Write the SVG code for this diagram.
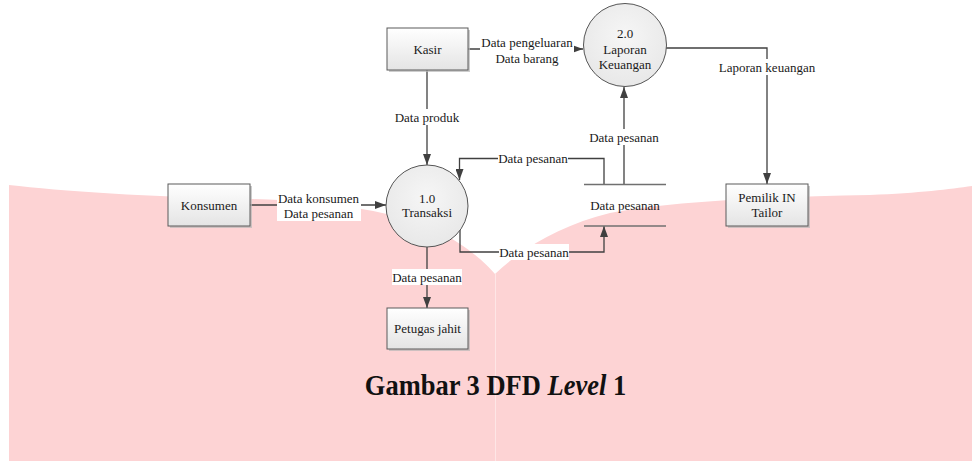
<svg xmlns="http://www.w3.org/2000/svg" width="972" height="461" viewBox="0 0 972 461">
<defs>
<linearGradient id="boxg" x1="0" y1="0" x2="0" y2="1">
<stop offset="0" stop-color="#ffffff"/>
<stop offset="1" stop-color="#e4e4e4"/>
</linearGradient>
<radialGradient id="circg" cx="0.5" cy="0.4" r="0.6">
<stop offset="0" stop-color="#f6f6f6"/>
<stop offset="1" stop-color="#e8e8e8"/>
</radialGradient>
<marker id="arr" markerWidth="11" markerHeight="8" refX="11" refY="4" orient="auto" markerUnits="userSpaceOnUse">
<path d="M0,0 L11,4 L0,8 Z" fill="#404040"/>
</marker>
</defs>
<style>
.bg{fill:#fdd3d4}
.box{fill:url(#boxg);stroke:#5a5a5a;stroke-width:1}
.shadow{fill:#b8b8b8;opacity:0.7}
.proc{fill:url(#circg);stroke:#555555;stroke-width:1}
.edge{fill:none;stroke:#404040;stroke-width:1.3}
.store{stroke:#707070;stroke-width:1.6}
.t{font-family:"Liberation Serif","Times New Roman",serif;font-size:13px;fill:#1a1a1a;text-anchor:middle}
.lbg{fill:#ffffff}
.cap{font-family:"Liberation Serif","Times New Roman",serif;font-size:26.5px;font-weight:bold;fill:#111111;text-anchor:middle}
</style>
<rect width="972" height="461" fill="#ffffff"/>
<path class="bg" d="M9,185 C60,191 150,197 250,199 C330,201 400,212 440,232 C465,245 485,262 495,274 L495,461 L9,461 Z"/>
<path class="bg" d="M495,274 C520,250 560,225 610,213 C680,200 780,197 870,195 C920,193 950,189 972,186 L972,461 L496,461 Z"/>
<line x1="495.5" y1="274" x2="495.5" y2="461" stroke="#fee6e6" stroke-width="1"/>

<g id="connectors">
<path class="edge" d="M250,205 L386,205" marker-end="url(#arr)"/>
<path class="edge" d="M427,70 L427,165" marker-end="url(#arr)"/>
<path class="edge" d="M468,49 L583,49" marker-end="url(#arr)"/>
<path class="edge" d="M666,48 L767,48 L767,184" marker-end="url(#arr)"/>
<path class="edge" d="M427,247 L427,308" marker-end="url(#arr)"/>
<path class="edge" d="M460,230 L460,252 L604,252 L604,226" marker-end="url(#arr)"/>
<path class="edge" d="M604,184 L604,158.5 L459.5,158.5 L459.5,180" marker-end="url(#arr)"/>
<path class="edge" d="M624,184 L624,87" marker-end="url(#arr)"/>
<rect class="lbg" x="277" y="190" width="84" height="31"/>
<text class="t" x="318.5" y="202.5">Data konsumen</text>
<text class="t" x="318.5" y="217.5">Data pesanan</text>
<rect class="lbg" x="393" y="109" width="68" height="16"/>
<text class="t" x="427" y="121.5">Data produk</text>
<rect class="lbg" x="480" y="34" width="94" height="31"/>
<text class="t" x="527" y="47">Data pengeluaran</text>
<text class="t" x="527" y="62.5">Data barang</text>
<rect class="lbg" x="718" y="59" width="98" height="16"/>
<text class="t" x="767" y="71.5">Laporan keuangan</text>
<rect class="lbg" x="392" y="269" width="70" height="16"/>
<text class="t" x="427" y="281.5">Data pesanan</text>
<rect class="lbg" x="499" y="244" width="70" height="16"/>
<text class="t" x="534" y="256.5">Data pesanan</text>
<rect class="lbg" x="498" y="150" width="70" height="16"/>
<text class="t" x="533" y="162.5">Data pesanan</text>
<rect class="lbg" x="589" y="129" width="70" height="16"/>
<text class="t" x="624" y="141.5">Data pesanan</text>
</g>

<g id="konsumen">
<rect class="shadow" x="170" y="186" width="82" height="42"/>
<rect class="box" x="168" y="184" width="82" height="42"/>
<text class="t" x="209" y="209.5">Konsumen</text>
</g>
<g id="kasir">
<rect class="shadow" x="389" y="30" width="81" height="42"/>
<rect class="box" x="387" y="28" width="81" height="42"/>
<text class="t" x="427.5" y="53.5">Kasir</text>
</g>
<g id="petugas-jahit">
<rect class="shadow" x="389" y="310" width="81" height="41"/>
<rect class="box" x="387" y="308" width="81" height="41"/>
<text class="t" x="427.5" y="333">Petugas jahit</text>
</g>
<g id="pemilik">
<rect class="shadow" x="728" y="186" width="82" height="42"/>
<rect class="box" x="726" y="184" width="82" height="42"/>
<text class="t" x="767" y="202">Pemilik IN</text>
<text class="t" x="767" y="217">Tailor</text>
</g>
<g id="proses-1">
<circle class="proc" cx="427" cy="206" r="41"/>
<text class="t" x="427" y="202.5">1.0</text>
<text class="t" x="427" y="216.5">Transaksi</text>
</g>
<g id="proses-2">
<circle class="proc" cx="625" cy="45" r="41.5"/>
<text class="t" x="625" y="37.5">2.0</text>
<text class="t" x="625" y="53.5">Laporan</text>
<text class="t" x="625" y="68.5">Keuangan</text>
</g>
<g id="data-store">
<line class="store" x1="584" y1="184.5" x2="666" y2="184.5"/>
<line class="store" x1="584" y1="226" x2="666" y2="226"/>
<text class="t" x="625" y="209.5">Data pesanan</text>
</g>

<g id="caption">
<text class="cap" transform="translate(495.5,395) scale(1,1.12)" x="0" y="0">Gambar 3 DFD <tspan font-style="italic">Level</tspan> 1</text>
</g>
</svg>
